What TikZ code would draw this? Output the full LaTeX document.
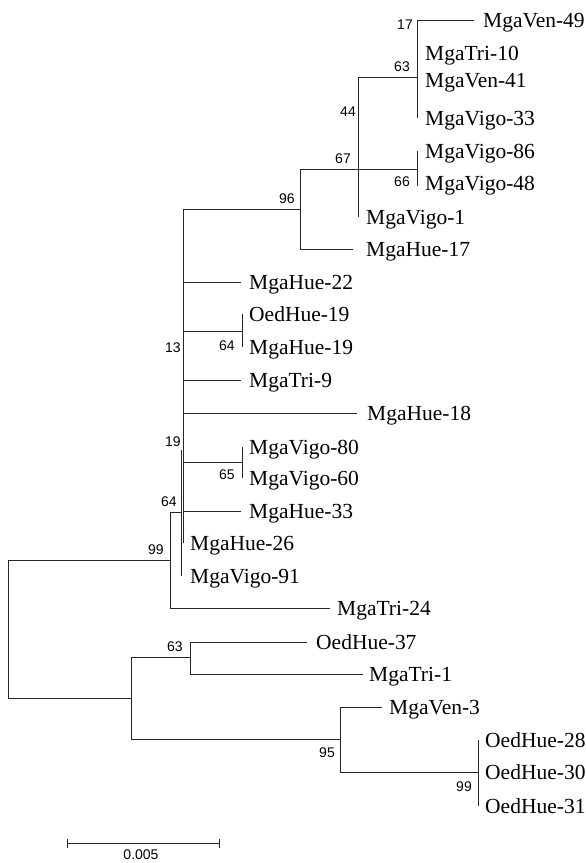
\documentclass[tikz,border=0pt]{standalone}
\usepackage{fontspec}
\setmainfont{Liberation Serif}
\newfontfamily\bootfont{Liberation Sans}
\begin{document}
\begin{tikzpicture}[x=1pt,y=-1pt,
  branch/.style={line width=0.9pt, draw=black!85, line cap=rect},
  taxon/.style={anchor=base west, inner sep=0pt, font=\fontsize{21.5}{21.5}\selectfont},
  boot/.style={inner sep=0pt, font=\bootfont\fontsize{14}{14}\selectfont}]
\useasboundingbox (0,0) rectangle (586,863);

% ---------- internal nodes ----------
\coordinate (root) at (8,629.5);
\coordinate (n99)  at (170,560);
\coordinate (n64)  at (181.5,512);
\coordinate (n64t) at (181.5,450);
\coordinate (n64b) at (181.5,576);
\coordinate (n13t) at (183,209);
\coordinate (n13b) at (183,543);
\coordinate (n96)  at (300,209);
\coordinate (n67)  at (358,169);
\coordinate (n67t) at (358,77);
\coordinate (n67b) at (358,217);
\coordinate (n63)  at (417,77);
\coordinate (n63t) at (417,20);
\coordinate (n63b) at (417,118);
\coordinate (n66)  at (417,169);
\coordinate (n66t) at (417,151);
\coordinate (n66b) at (417,186);
\coordinate (nA)   at (242,331);
\coordinate (nAt)  at (242,314);
\coordinate (nAb)  at (242,347);
\coordinate (nC)   at (242,462);
\coordinate (nCt)  at (242,447);
\coordinate (nCb)  at (242,478);
\coordinate (nB)   at (131,698);
\coordinate (n63l) at (190,657);
\coordinate (n95)  at (340,739);
\coordinate (n99l) at (478,772);
\coordinate (n99lt) at (478,740);
\coordinate (n99lb) at (478,806);

% ---------- branch tips ----------
\coordinate (e-ven49)  at (474,20);
\coordinate (e-hue17)  at (353,249);
\coordinate (e-hue22)  at (241,282);
\coordinate (e-tri9)   at (241,380);
\coordinate (e-hue18)  at (357,413);
\coordinate (e-hue33)  at (241,511);
\coordinate (e-tri24)  at (330,608);
\coordinate (e-oed37)  at (307,642);
\coordinate (e-tri1)   at (363,674);
\coordinate (e-ven3)   at (382,707);

% ---------- branches ----------
\draw[branch] (root) |- (n99);
\draw[branch] (root) |- (nB);
\draw[branch] (n99) |- (n64);
\draw[branch] (n99) |- (e-tri24);
\draw[branch] (n64t) -- (n64b);
\draw[branch] (n13t) -- (n13b);
\draw[branch] (n13t) -- (n96);
\draw[branch] (n96) |- (n67);
\draw[branch] (n96) |- (e-hue17);
\draw[branch] (n67t) -- (n67b);
\draw[branch] (n67t) -- (n63);
\draw[branch] (n67) -- (n66);
\draw[branch] (n63t) -- (n63b);
\draw[branch] (n63t) -- (e-ven49);
\draw[branch] (n66t) -- (n66b);
\draw[branch] (n13t |- e-hue22) -- (e-hue22);
\draw[branch] (n13t |- nA) -- (nA);
\draw[branch] (nAt) -- (nAb);
\draw[branch] (n13t |- e-tri9) -- (e-tri9);
\draw[branch] (n13t |- e-hue18) -- (e-hue18);
\draw[branch] (n13t |- nC) -- (nC);
\draw[branch] (nCt) -- (nCb);
\draw[branch] (n13t |- e-hue33) -- (e-hue33);
\draw[branch] (nB) |- (n63l);
\draw[branch] (nB) |- (n95);
\draw[branch] (n63l) |- (e-oed37);
\draw[branch] (n63l) |- (e-tri1);
\draw[branch] (n95) |- (e-ven3);
\draw[branch] (n95) |- (n99l);
\draw[branch] (n99lt) -- (n99lb);

% ---------- taxa ----------
\node[taxon] (ven49)  at (483,27.5)  {MgaVen-49};
\node[taxon] (tri10)  at (425,60.5)  {MgaTri-10};
\node[taxon] (ven41)  at (425,87.5)  {MgaVen-41};
\node[taxon] (vigo33) at (425,125.5) {MgaVigo-33};
\node[taxon] (vigo86) at (425,158.5) {MgaVigo-86};
\node[taxon] (vigo48) at (425,190.5) {MgaVigo-48};
\node[taxon] (vigo1)  at (366,224.5) {MgaVigo-1};
\node[taxon] (hue17)  at (366,256.5) {MgaHue-17};
\node[taxon] (hue22)  at (249,289.5) {MgaHue-22};
\node[taxon] (oed19)  at (249,321.5) {OedHue-19};
\node[taxon] (hue19)  at (249,354.5) {MgaHue-19};
\node[taxon] (tri9)   at (249,387.5) {MgaTri-9};
\node[taxon] (hue18)  at (367,420.5) {MgaHue-18};
\node[taxon] (vigo80) at (249,454.5) {MgaVigo-80};
\node[taxon] (vigo60) at (249,485.5) {MgaVigo-60};
\node[taxon] (hue33)  at (249,518.5) {MgaHue-33};
\node[taxon] (hue26)  at (190,550.5) {MgaHue-26};
\node[taxon] (vigo91) at (190,583.5) {MgaVigo-91};
\node[taxon] (tri24)  at (337,615.5) {MgaTri-24};
\node[taxon] (oed37)  at (316,649.5) {OedHue-37};
\node[taxon] (tri1)   at (369,681.5) {MgaTri-1};
\node[taxon] (ven3)   at (389,714.5) {MgaVen-3};
\node[taxon] (oed28)  at (485,747.5) {OedHue-28};
\node[taxon] (oed30)  at (485,779.5) {OedHue-30};
\node[taxon] (oed31)  at (485,813.5) {OedHue-31};

% ---------- bootstrap values ----------
\node[boot] (b17)  at (405,25)  {17};
\node[boot] (b63a) at (402,67)  {63};
\node[boot] (b44)  at (348,112) {44};
\node[boot] (b67)  at (343,159) {67};
\node[boot] (b66)  at (402,182) {66};
\node[boot] (b96)  at (287,199) {96};
\node[boot] (b13)  at (173,348) {13};
\node[boot] (b64a) at (227,346) {64};
\node[boot] (b19)  at (173,442) {19};
\node[boot] (b65)  at (227,475) {65};
\node[boot] (b64b) at (169,502) {64};
\node[boot] (b99a) at (156,550) {99};
\node[boot] (b63b) at (175,647) {63};
\node[boot] (b95)  at (327,753) {95};
\node[boot] (b99b) at (464,787) {99};

% ---------- scale bar ----------
\coordinate (sbL) at (67,843);
\coordinate (sbR) at (219,843);
\draw[branch, line cap=butt] (sbL) -- (sbR);
\draw[branch, line cap=butt] (sbL) ++(0,-4.5) -- ++(0,9);
\draw[branch, line cap=butt] (sbR) ++(0,-4.5) -- ++(0,9);
\node[boot, anchor=north] (sbtext) at (141,850) {0.005};
\end{tikzpicture}
\end{document}
